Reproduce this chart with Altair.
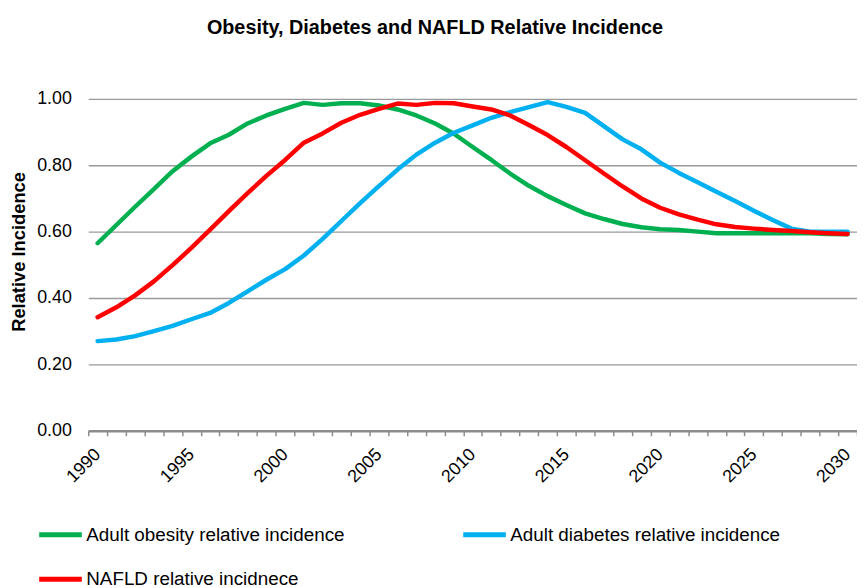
import altair as alt
import pandas as pd

years = list(range(1990, 2031))

obesity = [0.565, 0.620, 0.675, 0.728, 0.782, 0.826, 0.866, 0.892, 0.926, 0.950,
           0.970, 0.988, 0.982, 0.987, 0.987, 0.980, 0.968, 0.950, 0.926, 0.895,
           0.855, 0.816, 0.775, 0.738, 0.707, 0.680, 0.655, 0.638, 0.623, 0.613,
           0.607, 0.605, 0.600, 0.595, 0.595, 0.595, 0.595, 0.595, 0.595, 0.593,
           0.592]

diabetes = [0.270, 0.275, 0.285, 0.300, 0.316, 0.336, 0.355, 0.385, 0.420, 0.455,
            0.487, 0.528, 0.578, 0.632, 0.686, 0.737, 0.787, 0.832, 0.868, 0.898,
            0.920, 0.943, 0.960, 0.975, 0.990, 0.976, 0.958, 0.918, 0.878, 0.848,
            0.808, 0.777, 0.749, 0.720, 0.692, 0.663, 0.635, 0.609, 0.600, 0.600,
            0.600]

nafld = [0.342, 0.372, 0.408, 0.450, 0.499, 0.551, 0.606, 0.662, 0.716, 0.768,
         0.816, 0.868, 0.896, 0.928, 0.952, 0.970, 0.986, 0.982, 0.988, 0.987,
         0.977, 0.968, 0.950, 0.921, 0.891, 0.855, 0.815, 0.775, 0.736, 0.700,
         0.672, 0.652, 0.636, 0.622, 0.614, 0.609, 0.605, 0.602, 0.598, 0.595,
         0.593]

series_names = ["Adult obesity relative incidence",
                "Adult diabetes relative incidence",
                "NAFLD relative incidnece"]
series_colors = ["#00B050", "#00B0F0", "#FF0000"]
y_ticks = [0.0, 0.2, 0.4, 0.6, 0.8, 1.0]

rows = []
for name, vals in zip(series_names, [obesity, diabetes, nafld]):
    for yr, v in zip(years, vals):
        rows.append({"year": yr, "value": v, "series": name})
df = pd.DataFrame(rows)

FONT = "Liberation Sans"

chart = alt.Chart(df).mark_line(strokeWidth=4.5, strokeCap="round", strokeJoin="round").encode(
    x=alt.X("year:O",
            scale=alt.Scale(type="band", paddingInner=0, paddingOuter=0),
            axis=alt.Axis(title=None, labelAngle=-45, labelAlign="right", labelBaseline="middle",
                          labelExpr="datum.value % 5 == 0 ? datum.label : ''",
                          labelOverlap=False, labelFont=FONT, labelFontSize=18,
                          labelColor="#000000", labelPadding=16,
                          tickBand="extent", tickSize=5, tickColor="#8c8c8c", tickWidth=1.5,
                          domainColor="#8c8c8c", domainWidth=2.5, grid=False)),
    y=alt.Y("value:Q",
            scale=alt.Scale(domain=[0, 1]),
            axis=alt.Axis(values=y_ticks, format=".2f", title="Relative Incidence",
                          titleFont=FONT, titleFontSize=18.5, titleFontWeight="bold",
                          titleColor="#000000", titlePadding=8, titleY=154,
                          labelFont=FONT, labelFontSize=18, labelColor="#000000",
                          labelPadding=17, ticks=False, domain=False,
                          grid=True, gridColor="#9a9a9a", gridWidth=1.5)),
    color=alt.Color("series:N",
                    scale=alt.Scale(domain=series_names, range=series_colors),
                    sort=series_names,
                    legend=alt.Legend(orient="none", legendX=-52, legendY=416,
                                      direction="horizontal", columns=2, title=None,
                                      symbolType="stroke", symbolSize=1849,
                                      symbolStrokeWidth=5, labelFont=FONT,
                                      labelFontSize=19, labelColor="#000000",
                                      columnPadding=109, rowPadding=11,
                                      labelOffset=2, padding=0, labelLimit=400)),
).properties(
    width=776,
    height=335,
    title=alt.Title("Obesity, Diabetes and NAFLD Relative Incidence",
                    font=FONT, fontSize=20, fontWeight="bold", color="#000000",
                    anchor="middle", dx=-38, offset=52),
    autosize=alt.AutoSizeParams(type="none"),
    padding={"left": 81, "top": 89, "right": 0, "bottom": 156},
).configure_view(stroke=None)

chart.save("out.html", embed_options={"renderer": "svg", "actions": False})
